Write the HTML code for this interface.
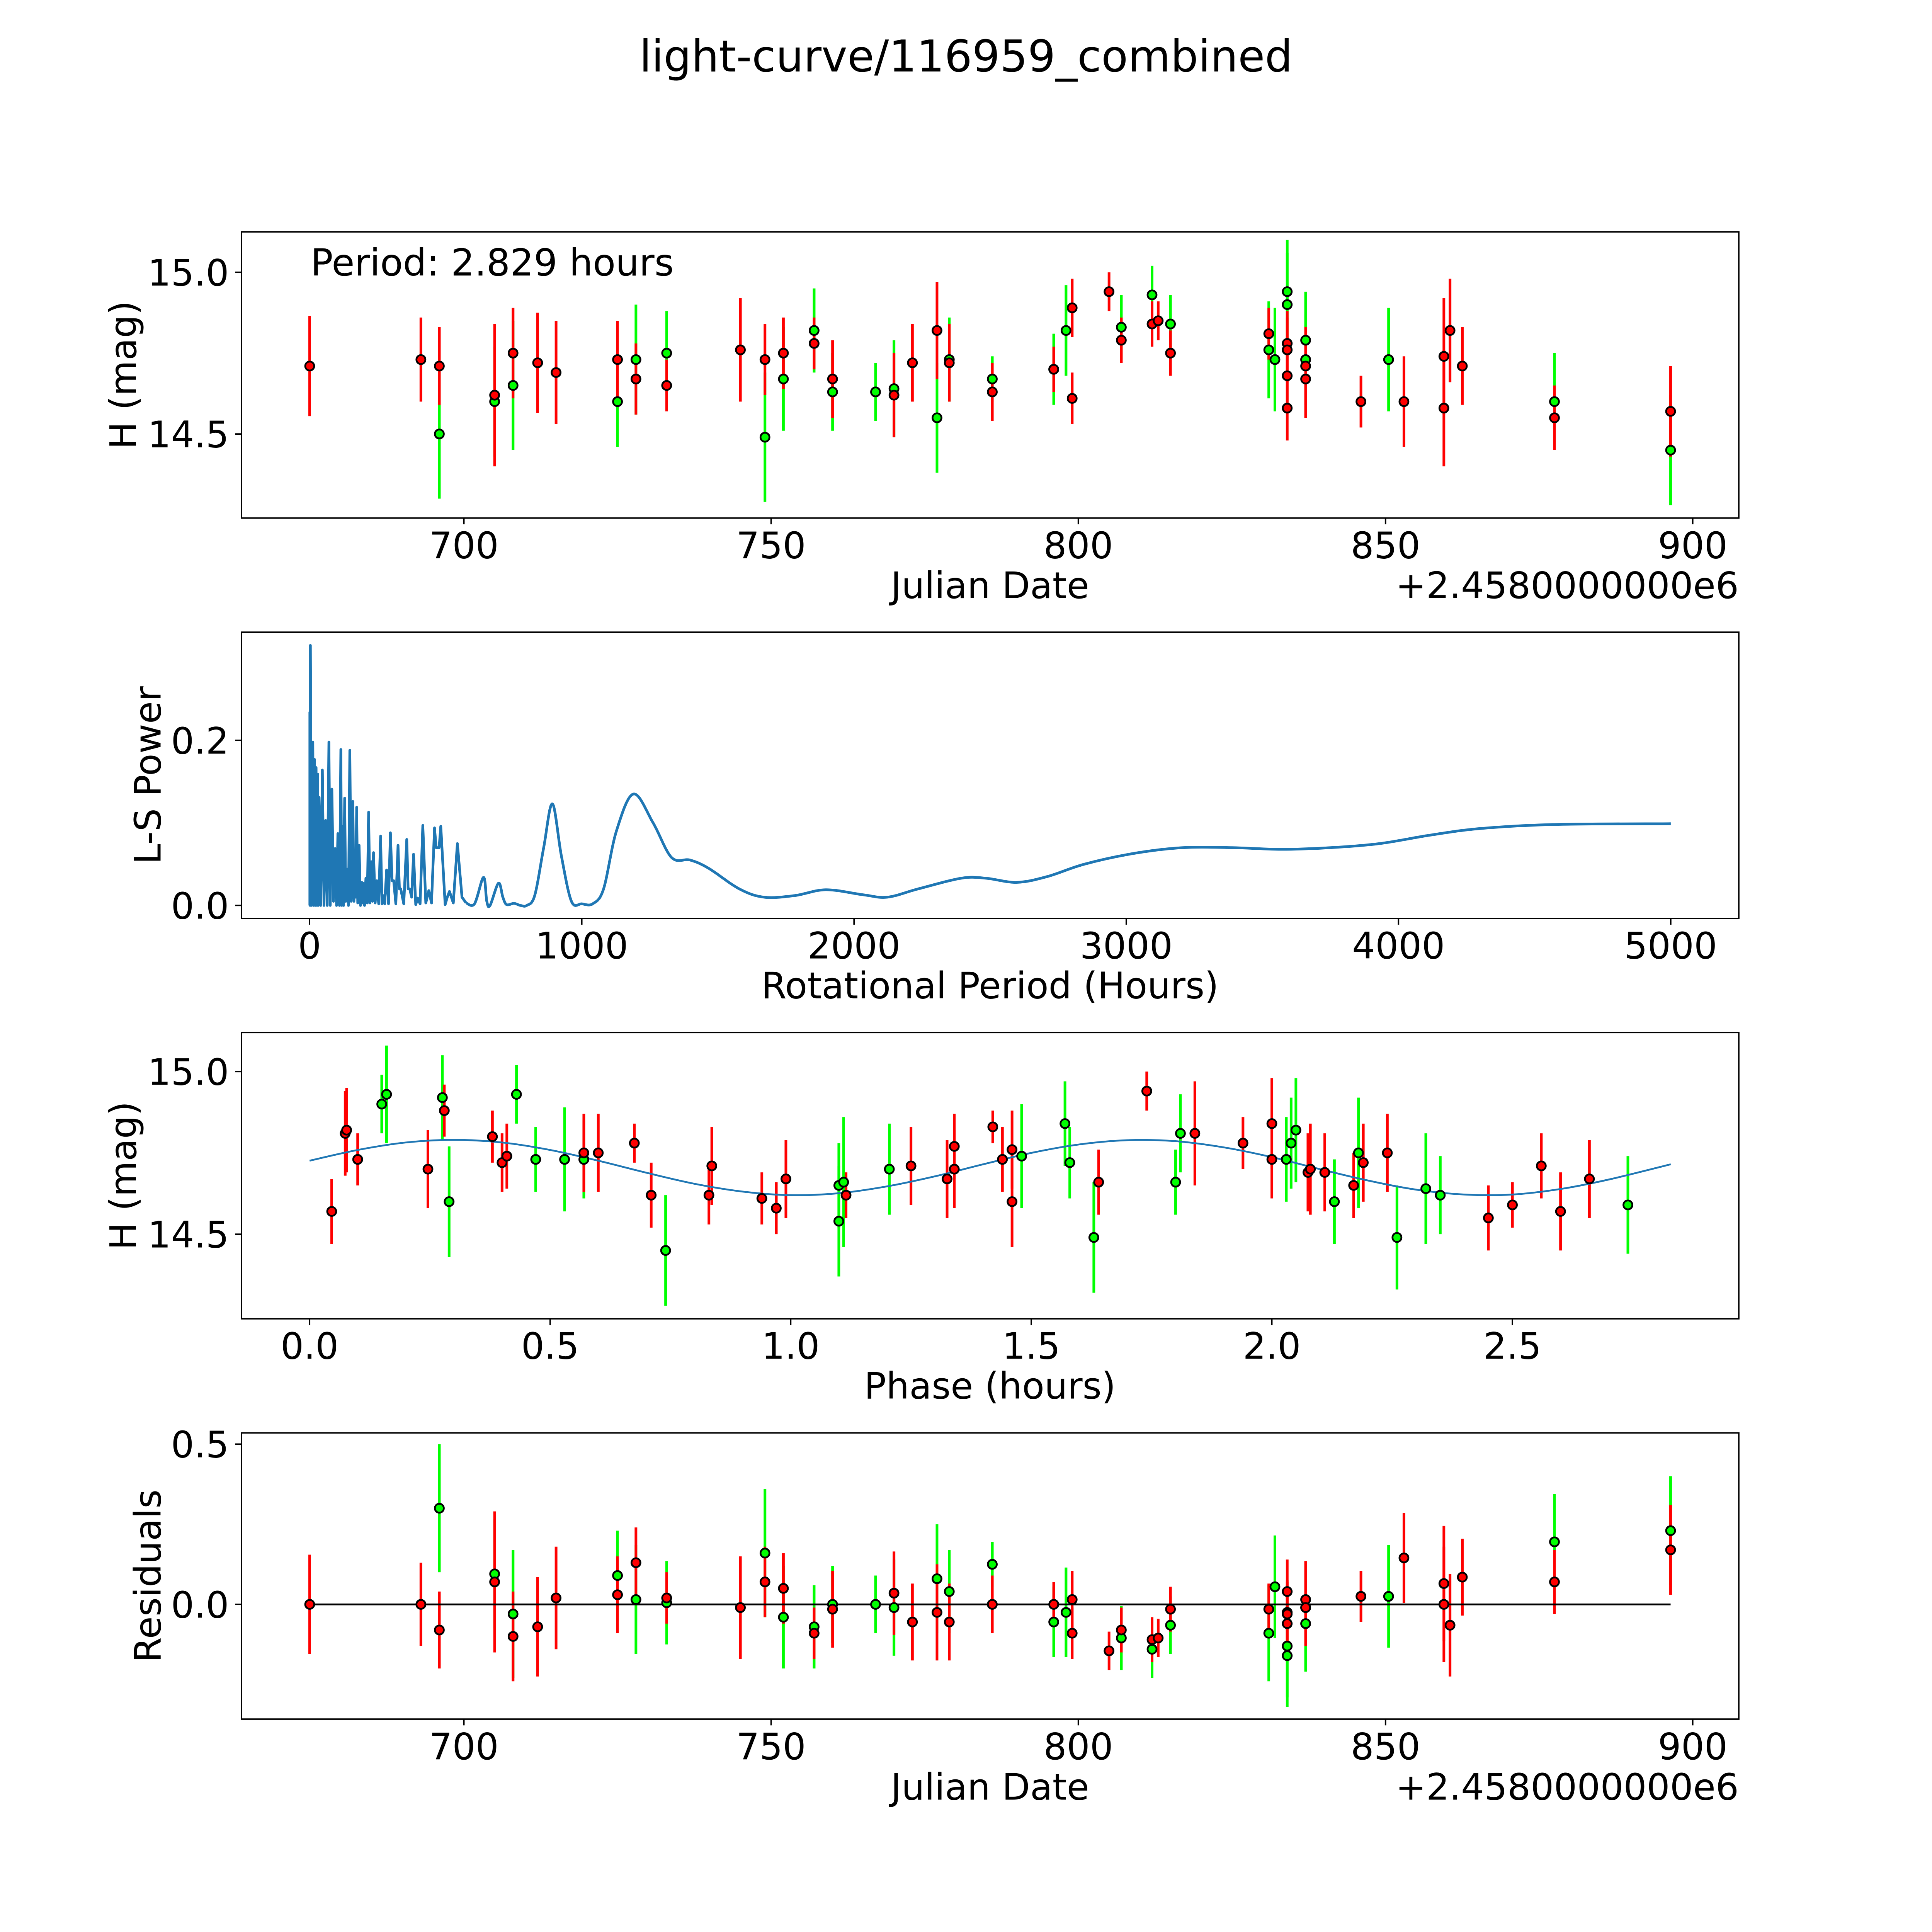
<!DOCTYPE html>
<html><head><meta charset="utf-8"><style>
html,body{margin:0;padding:0;background:#fff;overflow:hidden;width:100%;height:100%;}
svg{display:block;width:100vw;height:100vh;font-family:"DejaVu Sans","Liberation Sans",sans-serif;}
</style></head>
<body>
<svg id="fig" xmlns="http://www.w3.org/2000/svg" viewBox="0 0 5400 5400" preserveAspectRatio="none">
<rect x="0" y="0" width="5400" height="5400" fill="#fff"/>
<text x="2700" y="200" font-size="122" text-anchor="middle">light-curve/116959_combined</text>
</svg>
<script>
// ---- Panel 1: light curve (Julian Date) ----
const redDays=[674.9,693,696,705,708,712,715,725,728,733,745,749,752,757,760,770,773,777,779,786,796,799,799,805,807,812,813,815,831,834,834,834,834,837,837,846,853,859.5,859.5,860.5,862.5,877.5,896.4];
const redMags=[14.71,14.73,14.71,14.62,14.75,14.72,14.69,14.73,14.67,14.65,14.76,14.73,14.75,14.78,14.67,14.62,14.72,14.82,14.72,14.63,14.70,14.89,14.61,14.94,14.79,14.84,14.85,14.75,14.81,14.78,14.76,14.68,14.58,14.71,14.67,14.60,14.60,14.74,14.58,14.82,14.71,14.55,14.57];
const redErrs=[0.155,0.13,0.12,0.22,0.14,0.155,0.16,0.12,0.11,0.08,0.16,0.11,0.11,0.08,0.12,0.13,0.12,0.15,0.12,0.09,0.07,0.09,0.08,0.06,0.07,0.07,0.06,0.07,0.08,0.1,0.1,0.1,0.1,0.12,0.12,0.08,0.14,0.18,0.18,0.16,0.12,0.1,0.14];
const greenDays=[696,705,708,725,728,733,749,752,757,760,767,770,777,779,786,796,798,807,812,815,831,832,834,834,837,837,850.5,877.5,896.4];
const greenMags=[14.50,14.60,14.65,14.60,14.73,14.75,14.49,14.67,14.82,14.63,14.63,14.64,14.55,14.73,14.67,14.70,14.82,14.83,14.93,14.84,14.76,14.73,14.94,14.90,14.79,14.73,14.73,14.60,14.45];
const greenErrs=[0.2,0.17,0.2,0.14,0.17,0.13,0.2,0.16,0.13,0.12,0.09,0.15,0.17,0.13,0.07,0.11,0.14,0.1,0.09,0.09,0.15,0.16,0.16,0.16,0.15,0.14,0.16,0.15,0.17];
const jdTicks=[700,750,800,850,900];
const magTicks=[14.5,15.0];
// ---- Panel 2: periodogram ----
const periods=[1,1,2,3,7,12,15,18,21,24,27,30,32,35,41,47,53,59,65,71,76,82,88,94,99,104,110,115,118,121,125,129,133,138,143,148,153,159,163,168,170,173,177,182,187,192,195,197,202,207,212,217,222,227,231,235,241,247,254,261,266,270,276,283,290,297,303,309,317,325,330,335,346,357,362,368,375,382,390,397,406,416,427,438,448,459,465,470,476,482,498,506,514,528,543,560,575,606,639,651,663,694,710,724,751,775,798,827,860,892,925,962,1000,1040,1080,1127,1190,1262,1330,1398,1466,1579,1670,1783,1896,2032,2122,2235,2394,2484,2597,2710,2846,3027,3208,3389,3570,3751,3932,4113,4294,4566,5000];
const powers=[0,0.234,0,0.315,0,0.198,0,0.177,0,0.167,0,0.159,0,0.131,0,0.164,0,0.103,0,0.198,0,0.141,0.005,0.069,0,0.087,0,0.189,0,0.096,0,0.13,0.005,0.044,0,0.188,0.005,0.126,0.005,0.063,0.01,0.119,0.003,0.073,0,0.028,0.003,0.027,0,0.033,0.003,0.113,0.003,0.053,0.005,0.064,0.003,0.03,0.002,0.084,0.002,0.012,0.002,0.043,0.002,0.088,0.03,0.03,0.002,0.073,0.02,0.02,0.002,0.08,0.02,0.02,0.01,0.062,0.001,0.009,0.002,0.097,0.003,0.018,0.003,0.094,0.07,0.07,0.07,0.096,0.001,0.01,0.017,0.003,0.075,0.01,0.003,0.002,0.034,0.005,0,0.027,0.01,0.001,0.0025,0,0,0.012,0.07,0.123,0.06,0.005,0.002,0.002,0.02,0.09,0.135,0.1,0.058,0.055,0.045,0.02,0.01,0.012,0.019,0.013,0.01,0.02,0.033,0.033,0.028,0.035,0.05,0.063,0.07,0.07,0.068,0.07,0.075,0.085,0.093,0.098,0.099];
const periodTicks=[0,1000,2000,3000,4000,5000];
const powerTicks=[0.0,0.2];
const powerTickLabels=["0.0","0.2"];
// ---- Panel 3: phased curve ----
const redPhase=[0.046,0.074,0.077,0.10,0.246,0.28,0.38,0.40,0.41,0.57,0.60,0.675,0.71,0.83,0.836,0.94,0.97,0.99,1.115,1.25,1.325,1.34,1.34,1.42,1.44,1.46,1.46,1.64,1.74,1.84,1.94,2.00,2.00,2.075,2.08,2.11,2.17,2.19,2.24,2.45,2.50,2.56,2.60,2.66];
const redPhaseMags=[14.57,14.81,14.82,14.73,14.70,14.88,14.80,14.72,14.74,14.75,14.75,14.78,14.62,14.62,14.71,14.61,14.58,14.67,14.62,14.71,14.67,14.77,14.70,14.83,14.73,14.76,14.60,14.66,14.94,14.81,14.78,14.84,14.73,14.69,14.70,14.69,14.65,14.72,14.75,14.55,14.59,14.71,14.57,14.67];
const redPhaseErrs=[0.1,0.13,0.13,0.08,0.12,0.08,0.08,0.09,0.1,0.12,0.12,0.06,0.1,0.09,0.12,0.08,0.08,0.12,0.07,0.12,0.12,0.1,0.12,0.05,0.1,0.12,0.14,0.1,0.06,0.16,0.08,0.14,0.12,0.12,0.14,0.12,0.1,0.12,0.12,0.1,0.07,0.1,0.12,0.12];
const greenPhase=[0.15,0.16,0.276,0.29,0.43,0.47,0.53,0.57,0.74,1.10,1.10,1.11,1.205,1.48,1.57,1.58,1.63,1.80,1.81,2.03,2.04,2.05,2.13,2.18,2.26,2.32,2.35,2.74];
const greenPhaseMags=[14.90,14.93,14.92,14.60,14.93,14.73,14.73,14.73,14.45,14.54,14.65,14.66,14.70,14.74,14.84,14.72,14.49,14.66,14.81,14.73,14.78,14.82,14.60,14.75,14.49,14.64,14.62,14.59];
const greenPhaseErrs=[0.09,0.15,0.13,0.17,0.09,0.1,0.16,0.12,0.17,0.17,0.13,0.2,0.14,0.16,0.13,0.11,0.17,0.1,0.12,0.13,0.14,0.16,0.13,0.17,0.16,0.17,0.12,0.15];
const phaseTicks=[0,0.5,1.0,1.5,2.0,2.5];
const phaseTickLabels=["0.0","0.5","1.0","1.5","2.0","2.5"];
const modelPhase=[0,0.1,0.2,0.3,0.4,0.5,0.6,0.7,0.8,0.9,1.0,1.1,1.2,1.3,1.4,1.5,1.6,1.7,1.8,1.9,2.0,2.1,2.2,2.3,2.4,2.5,2.6,2.7,2.829];
const modelMags=[14.726,14.759,14.782,14.79,14.782,14.759,14.726,14.689,14.655,14.631,14.620,14.626,14.647,14.678,14.715,14.750,14.776,14.789,14.786,14.767,14.737,14.700,14.665,14.637,14.622,14.622,14.639,14.668,14.715];
// ---- Panel 4: residuals ----
const redResid=[0,0,-0.08,0.07,-0.10,-0.07,0.02,0.03,0.13,0.02,-0.01,0.07,0.05,-0.09,-0.015,0.035,-0.055,-0.025,-0.055,0,0,0.015,-0.09,-0.145,-0.08,-0.11,-0.105,-0.015,-0.015,0.04,-0.025,-0.06,-0.03,0.015,-0.01,0.025,0.145,0.065,0,-0.065,0.085,0.07,0.17];
const greenResid=[0.30,0.095,-0.03,0.09,0.015,0.005,0.16,-0.04,-0.07,0,0,-0.01,0.08,0.04,0.125,-0.055,-0.025,-0.105,-0.14,-0.065,-0.09,0.055,-0.16,-0.13,-0.06,-0.01,0.025,0.195,0.23];
const residTicks=[0.0,0.5];
const residTickLabels=["0.0","0.5"];

const NS="http://www.w3.org/2000/svg";
const fig=document.getElementById('fig');
const L=675,R=4860,H=800;
const RED="#ff0000",GREEN="#00ff00",BLUE="#1f77b4";
function mk(tag,attrs,parent){const e=document.createElementNS(NS,tag);for(const k in attrs)e.setAttribute(k,attrs[k]);(parent||fig).appendChild(e);return e;}
function axes(top,xmin,xmax,ymin,ymax){
  return {top:top,bot:top+H,
    x:v=>L+(v-xmin)/(xmax-xmin)*(R-L),
    y:v=>top+H-(v-ymin)/(ymax-ymin)*H};
}
function frame(ax,name){
  const r=mk('rect',{x:L,y:ax.top,width:R-L,height:H,fill:'none',stroke:'#000','stroke-width':4});
  
  
}
function xticks(ax,vals,labels,name){
  vals.forEach((v,i)=>{
    const X=ax.x(v);
    const t=mk('line',{x1:X,x2:X,y1:ax.bot,y2:ax.bot+17.5,stroke:'#000','stroke-width':4});
    
    
    const tx=mk('text',{x:X,y:ax.bot+112,'font-size':102,'text-anchor':'middle'});
    tx.textContent=labels[i];
    
    
  });
}
function yticks(ax,vals,labels,name){
  vals.forEach((v,i)=>{
    const Y=ax.y(v);
    const t=mk('line',{x1:L-17.5,x2:L,y1:Y,y2:Y,stroke:'#000','stroke-width':4});
    
    
    const tx=mk('text',{x:640,y:Y+37,'font-size':102,'text-anchor':'end'});
    tx.textContent=labels[i];
    
    
  });
}
function label(txt,x,y,rot,name){
  const a={x:x,y:y,'font-size':102,'text-anchor':'middle'};
  if(rot)a.transform='rotate(-90 '+x+' '+y+')';
  const t=mk('text',a);t.textContent=txt;
  
  
}
function bars(ax,xs,ys,es,col,name){
  xs.forEach((d,i)=>{
    const b=mk('line',{x1:ax.x(d),x2:ax.x(d),y1:ax.y(ys[i]-es[i]),y2:ax.y(ys[i]+es[i]),stroke:col,'stroke-width':7.5});
    
    
  });
}
function dots(ax,xs,ys,col,name){
  xs.forEach((d,i)=>{
    const c=mk('circle',{cx:ax.x(d),cy:ax.y(ys[i]),r:12.5,fill:col,stroke:'#000','stroke-width':5});
    
    
  });
}
function smoothPath(ax,xs,ys){
  const P=xs.map((v,i)=>[ax.x(v),ax.y(ys[i])]);
  let d='M'+P[0][0].toFixed(1)+','+P[0][1].toFixed(1);
  for(let i=0;i<P.length-1;i++){
    const p0=P[Math.max(0,i-1)],p1=P[i],p2=P[i+1],p3=P[Math.min(P.length-1,i+2)];
    const c1=[p1[0]+(p2[0]-p0[0])/6,p1[1]+(p2[1]-p0[1])/6];
    const c2=[p2[0]-(p3[0]-p1[0])/6,p2[1]-(p3[1]-p1[1])/6];
    d+=' C'+c1[0].toFixed(1)+','+c1[1].toFixed(1)+' '+c2[0].toFixed(1)+','+c2[1].toFixed(1)+' '+p2[0].toFixed(1)+','+p2[1].toFixed(1);
  }
  return d;
}
function curve(ax,xs,ys,col,w,name,smooth){
  let d;
  if(smooth){d=smoothPath(ax,xs,ys);}
  else{d='M'+xs.map((v,i)=>ax.x(v).toFixed(1)+','+ax.y(ys[i]).toFixed(1)).join(' L');}
  const p=mk('path',{d:d,fill:'none',stroke:col,'stroke-width':w,'stroke-linejoin':'round'});
  
  
}
const jdLabels=jdTicks.map(String);
const magLabels=magTicks.map(v=>v.toFixed(1));

// Panel 1
const a1=axes(648,663.8,907.5,14.24,15.125);
bars(a1,greenDays,greenMags,greenErrs,GREEN,'green-lc');
bars(a1,redDays,redMags,redErrs,RED,'red-lc');
dots(a1,greenDays,greenMags,GREEN,'green-lc');
dots(a1,redDays,redMags,RED,'red-lc');
frame(a1,'lightcurve');
xticks(a1,jdTicks,jdLabels,'lightcurve');
yticks(a1,magTicks,magLabels,'lightcurve');
label('Julian Date',2767,1672,false,'lightcurve-x-axis-title');
label('H (mag)',380,1048,true,'lightcurve-y-axis-title');
(function(){const t=mk('text',{x:4860,y:1672,'font-size':102,'text-anchor':'end'});t.textContent='+2.4580000000e6';


const p=mk('text',{x:868,y:770,'font-size':104});p.textContent='Period: 2.829 hours';

})();

// Panel 2
const a2=axes(1767,-250,5250,-0.0157,0.331);
const split=periods.indexOf(575);
curve(a2,periods.slice(0,split+1),powers.slice(0,split+1),BLUE,7.5,'periodogram-line-short',false);
curve(a2,periods.slice(split),powers.slice(split),BLUE,7.5,'periodogram-line-long',true);
frame(a2,'periodogram');
xticks(a2,periodTicks,periodTicks.map(String),'periodogram');
yticks(a2,powerTicks,powerTickLabels,'periodogram');
label('Rotational Period (Hours)',2767,2790,false,'periodogram-x-axis-title');
label('L-S Power',449,2167,true,'periodogram-y-axis-title');

// Panel 3
const a3=axes(2886,-0.1415,2.9705,14.24,15.12);
bars(a3,greenPhase,greenPhaseMags,greenPhaseErrs,GREEN,'green-phase');
bars(a3,redPhase,redPhaseMags,redPhaseErrs,RED,'red-phase');
curve(a3,modelPhase,modelMags,BLUE,5,'phase-model-curve',true);
dots(a3,greenPhase,greenPhaseMags,GREEN,'green-phase');
dots(a3,redPhase,redPhaseMags,RED,'red-phase');
frame(a3,'phase');
xticks(a3,phaseTicks,phaseTickLabels,'phase');
yticks(a3,magTicks,magLabels,'phase');
label('Phase (hours)',2767,3909,false,'phase-x-axis-title');
label('H (mag)',380,3286,true,'phase-y-axis-title');

// Panel 4
const a4=axes(4005,663.8,907.5,-0.358,0.535);
bars(a4,greenDays,greenResid,greenErrs,GREEN,'green-resid');
bars(a4,redDays,redResid,redErrs,RED,'red-resid');
curve(a4,[redDays[0],redDays[redDays.length-1]],[0,0],'#000',5,'residual-zero-line',false);
dots(a4,greenDays,greenResid,GREEN,'green-resid');
dots(a4,redDays,redResid,RED,'red-resid');
frame(a4,'residuals');
xticks(a4,jdTicks,jdLabels,'residuals');
yticks(a4,residTicks,residTickLabels,'residuals');
label('Julian Date',2767,5030,false,'residuals-x-axis-title');
label('Residuals',449,4405,true,'residuals-y-axis-title');
(function(){const t=mk('text',{x:4860,y:5030,'font-size':102,'text-anchor':'end'});t.textContent='+2.4580000000e6';

})();
</script>
</body></html>
